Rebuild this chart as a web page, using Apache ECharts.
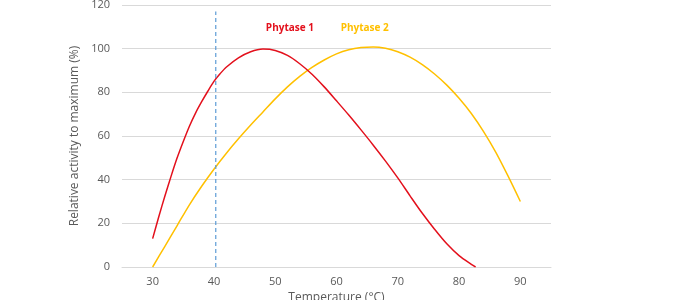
<!DOCTYPE html>
<html>
<head>
<meta charset="utf-8">
<script src="https://cdn.jsdelivr.net/npm/echarts@6/dist/echarts.min.js"></script>
<style>
  html, body { margin: 0; padding: 0; background: #fff; }
  #chart { width: 680px; height: 300px; }
</style>
</head>
<body>
<div id="chart"></div>
<script>
// Phytase 1 (red): [temperature, relative activity]
const phytase1 = [
  [30, 13], [31, 23], [32, 32.5], [33, 41.5], [34, 50], [35, 57.5], [36, 64.5],
  [37, 70.5], [38, 75.7], [39, 80.5], [40, 85], [41, 88.5], [42, 91.5], [44, 95.8],
  [46, 98.6], [48, 99.8], [50, 99.2], [52, 96.9], [54, 93.1], [56, 88.3], [58, 82.5],
  [60, 76.1], [62, 69.6], [64, 62.8], [66, 55.8], [68, 48.5], [70, 40.8], [72, 32.6],
  [74, 24.6], [76, 17.3], [78, 10.6], [80, 5.2], [82, 1.2], [82.7, 0]
]

// Phytase 2 (yellow)
const phytase2 = [
  [30, 0], [32, 9.5], [34, 19], [36, 28.5], [38, 37], [40, 44.8], [42, 52],
  [44, 58.7], [46, 65], [48, 71], [50, 77], [52, 82.5], [54, 87.3], [56, 91.4],
  [58, 94.8], [60, 97.6], [62, 99.5], [64, 100.5], [66, 100.8], [68, 100.2],
  [70, 98.6], [72, 96.1], [74, 92.7], [76, 88.4], [78, 83.3], [80, 77.3],
  [82, 70.3], [84, 62], [86, 52.5], [88, 41.6], [90, 30]
]

// vertical dashed reference line
const refLine = [[40.3, 0], [40.3, 117]]

// series labels [x, y]
const label1 = [52.4, 109.3]
const label2 = [64.6, 109.5]

const chart = echarts.init(document.getElementById('chart'))

const labelFont = 'Open Sans, Liberation Sans, sans-serif'

const option = {
  animation: false,
  grid: { left: 122, right: 129, top: 5, bottom: 33, outerBoundsMode: 'none' },
  xAxis: {
    type: 'value',
    min: 25,
    max: 95,
    interval: 5,
    name: 'Temperature (°C)',
    nameLocation: 'middle',
    nameGap: 25,
    nameTextStyle: { color: '#595959', fontSize: 12, fontFamily: labelFont },
    axisLine: { show: true, lineStyle: { color: '#d9d9d9', width: 1 } },
    axisTick: { show: false },
    splitLine: { show: false },
    axisLabel: {
      color: '#595959',
      fontSize: 11,
      fontFamily: labelFont,
      margin: 9,
      formatter: v => (v % 10 === 0 ? String(v) : '')
    }
  },
  yAxis: {
    type: 'value',
    min: 0,
    max: 120,
    interval: 20,
    name: 'Relative activity to maximum (%)',
    nameLocation: 'middle',
    nameGap: 38,
    nameTextStyle: { color: '#595959', fontSize: 12, fontFamily: labelFont },
    axisLine: { show: false },
    axisTick: { show: false },
    splitLine: { lineStyle: { color: '#d9d9d9', width: 1 } },
    axisLabel: { color: '#595959', fontSize: 11, fontFamily: labelFont, margin: 12 }
  },
  series: [
    {
      name: 'Phytase 2',
      type: 'line',
      data: phytase2,
      smooth: 0.3,
      showSymbol: false,
      lineStyle: { color: '#ffc000', width: 1.5 },
      markPoint: {
        symbol: 'circle',
        symbolSize: 0,
        data: [{ coord: label2 }],
        label: {
          show: true,
          formatter: 'Phytase 2',
          color: '#ffc000',
          fontWeight: 'bold',
          fontSize: 10,
          fontFamily: labelFont
        }
      }
    },
    {
      name: 'Phytase 1',
      type: 'line',
      data: phytase1,
      smooth: 0.3,
      showSymbol: false,
      lineStyle: { color: '#e3101c', width: 1.5 },
      markPoint: {
        symbol: 'circle',
        symbolSize: 0,
        data: [{ coord: label1 }],
        label: {
          show: true,
          formatter: 'Phytase 1',
          color: '#e3101c',
          fontWeight: 'bold',
          fontSize: 10,
          fontFamily: labelFont
        }
      }
    },
    {
      name: 'ref',
      type: 'line',
      data: refLine,
      showSymbol: false,
      lineStyle: { color: '#5b9bd5', width: 1.2, type: [4, 3] }
    }
  ]
}

chart.setOption(option)
</script>
</body>
</html>
